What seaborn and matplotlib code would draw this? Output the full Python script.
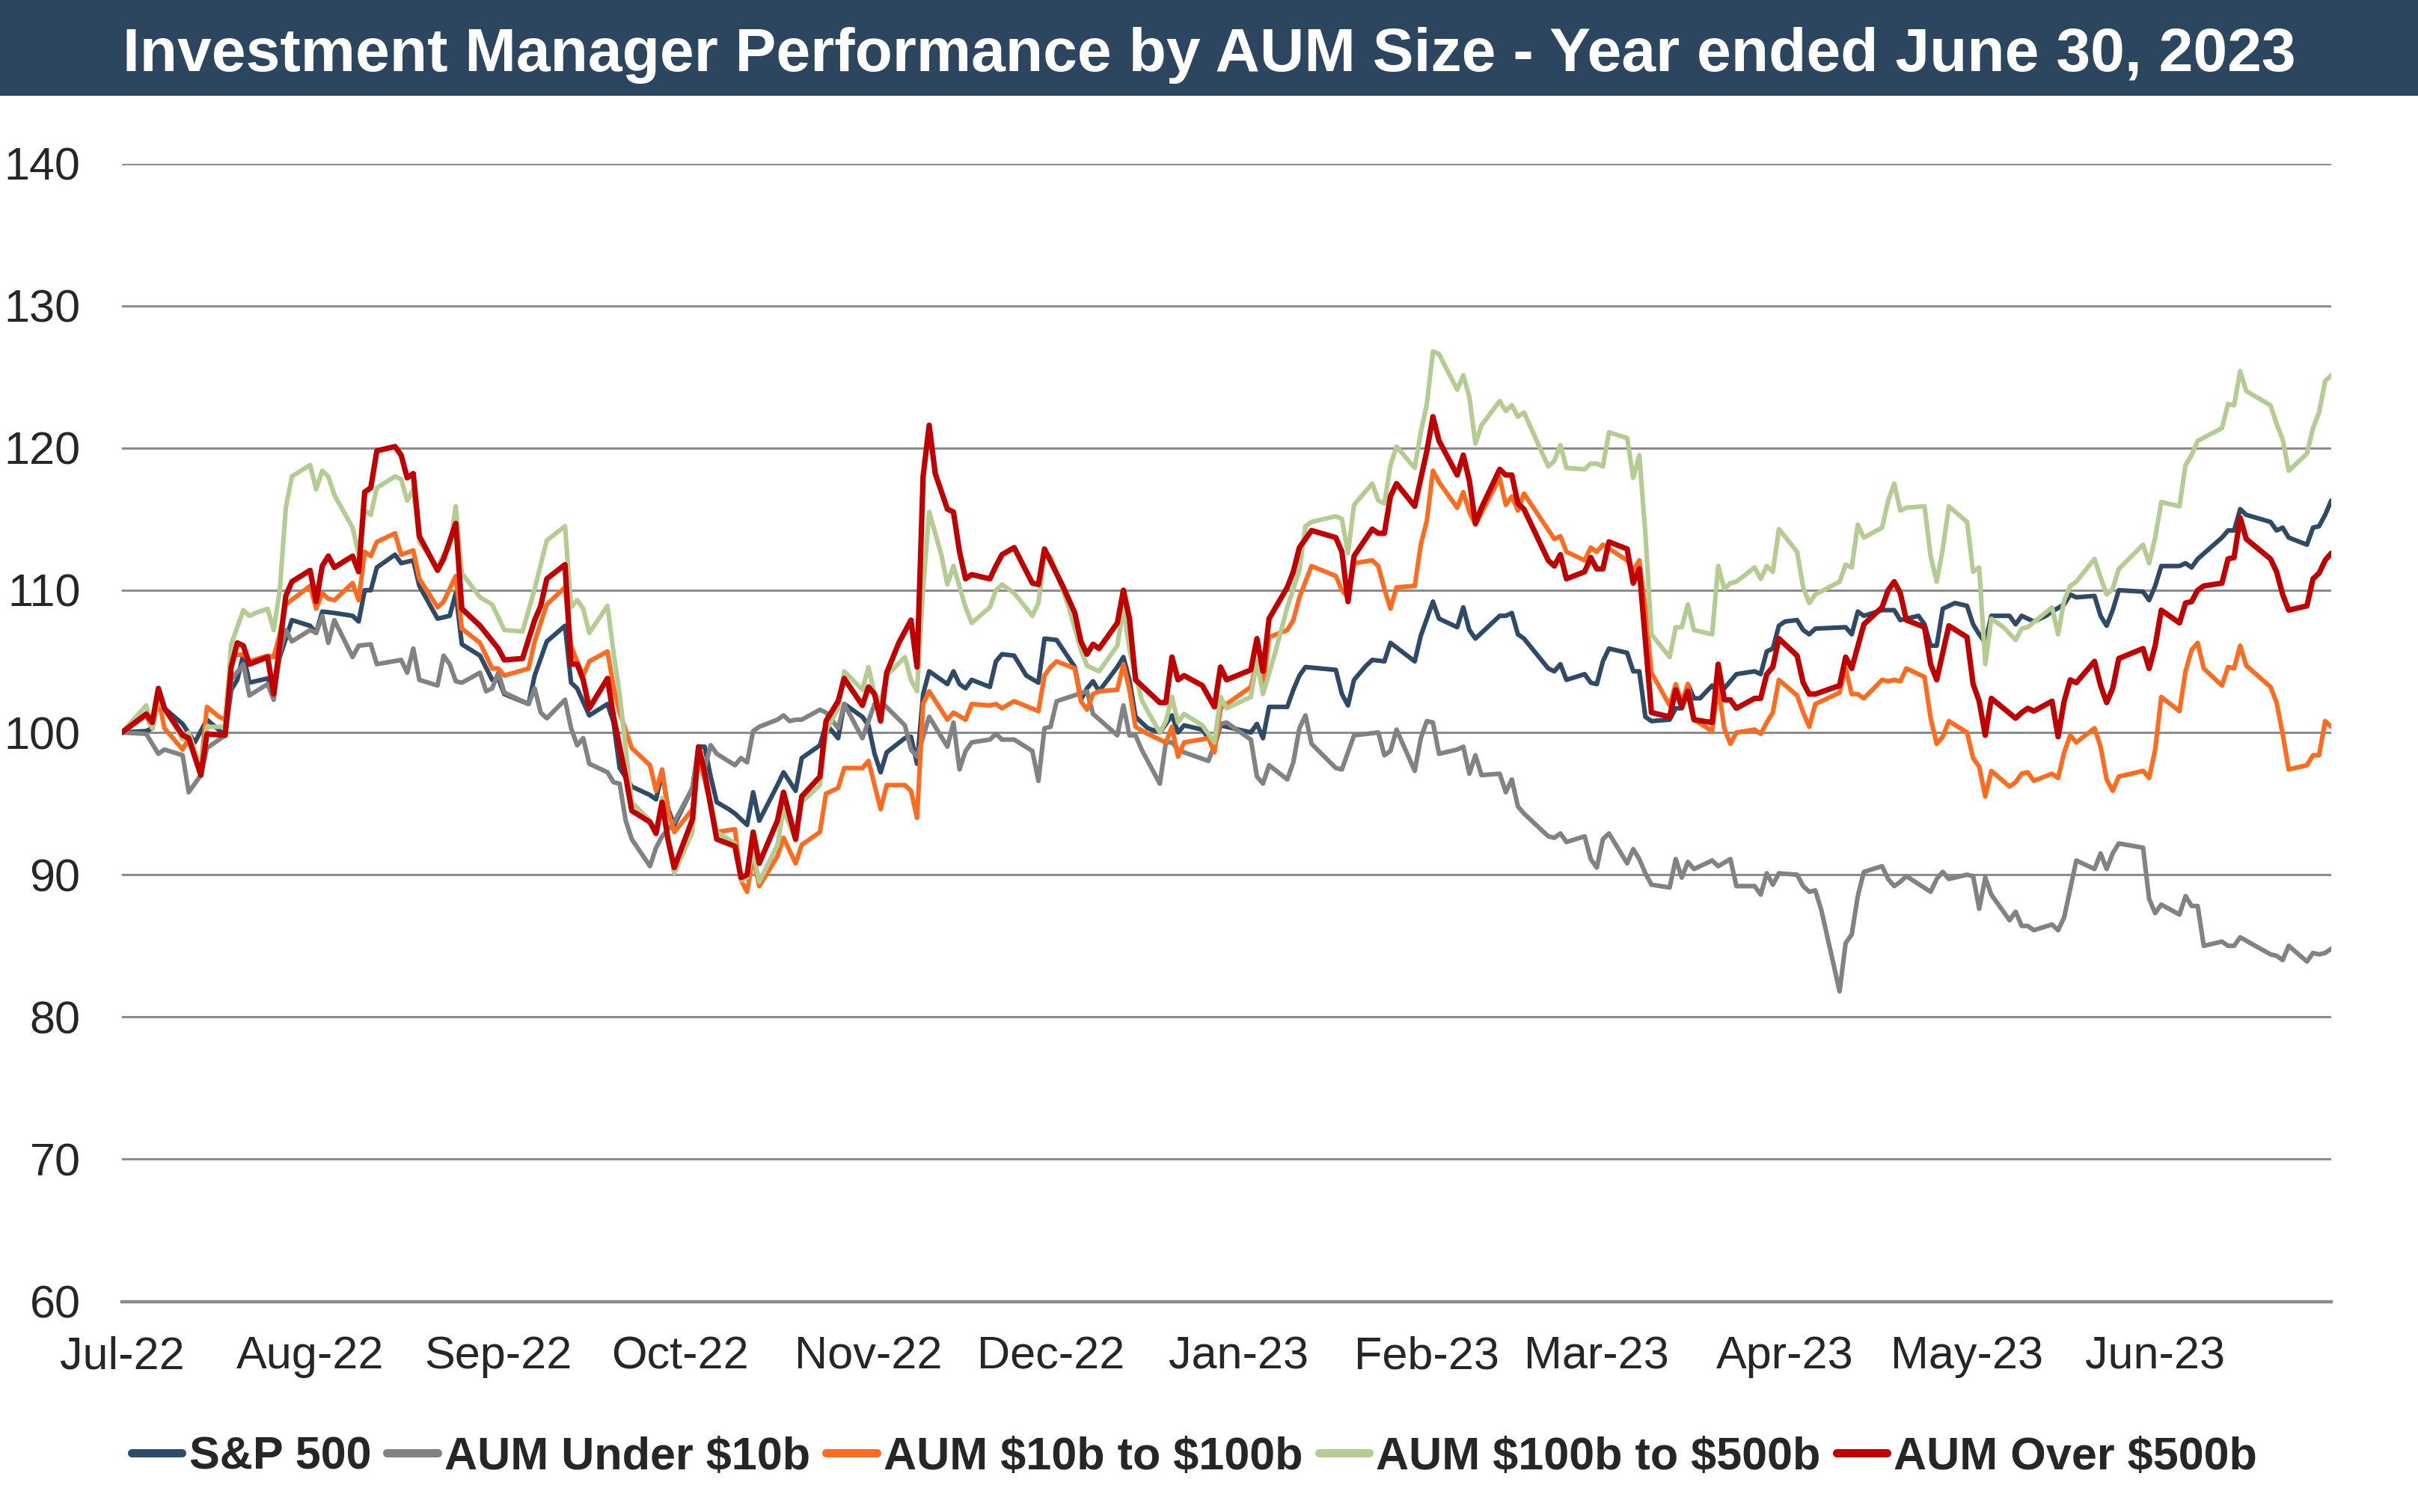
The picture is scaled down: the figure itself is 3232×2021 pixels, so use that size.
import pandas as pd
import numpy as np
import seaborn as sns
import matplotlib.pyplot as plt
import matplotlib.dates as mdates
from matplotlib.lines import Line2D
from matplotlib.patches import Rectangle

# index level (Jul 1 2022 = 100), as (days since Jul 1 2022, value)
start = pd.Timestamp('2022-07-01')

sp500 = [(0,100),(4,100.1),(5,100.3),(6,102.2),(7,101.7),(10,100.6),(12,99.3),(14,100.9),(17,99.8),(18,103.0),
    (19,103.7),(20,105.5),(21,103.5),(24,103.8),(25,102.8),(26,105.3),(28,107.9),(31,107.5),(32,107.0),(33,108.5),
    (35,108.4),(38,108.2),(39,107.8),(40,110.0),(41,110.0),(42,111.6),(45,112.5),(46,111.9),(48,112.1),(49,110.3),
    (52,108.0),(54,108.2),(55,109.8),(56,106.2),(59,105.4),(61,103.7),(62,103.8),(63,102.7),(67,102.0),(68,104.0),
    (70,106.4),(73,107.5),(74,103.5),(75,103.1),(77,101.2),(80,102.0),(81,100.7),(82,97.5),(84,96.2),(87,95.6),
    (88,95.3),(89,97.2),(90,94.6),(91,93.5),(94,96.1),(95,99.0),(96,99.0),(97,96.9),(98,95.1),(100,94.6),
    (101,94.3),(103,93.5),(104,95.8),(105,93.8),(108,96.3),(109,97.2),(111,95.9),(112,98.2),(115,99.1),(116,100.6),
    (118,99.6),(119,102.0),(122,101.1),(123,100.5),(124,98.5),(125,97.2),(126,98.6),(129,99.6),(130,99.7),(131,97.8),
    (132,102.7),(133,104.3),(136,103.4),(137,104.3),(138,103.4),(139,103.1),(140,103.7),(143,103.2),(144,105.0),(145,105.5),
    (147,105.4),(149,104.0),(151,103.5),(152,106.6),(154,106.5),(157,104.6),(158,102.3),(159,103.1),(160,103.6),(161,102.9),
    (164,104.6),(165,105.3),(166,103.7),(167,101.1),(169,100.3),(171,100.0),(173,101.2),(174,100.0),(175,100.5),(178,100.2),
    (180,99.0),(181,100.5),(182,100.4),(186,100.0),(187,100.6),(188,99.6),(189,101.8),(192,101.8),(193,103.0),(194,104.0),
    (195,104.6),(200,104.4),(201,102.7),(202,101.9),(203,103.7),(205,104.7),(206,105.1),(208,105.0),(209,106.3),(213,105.0),
    (214,106.8),(215,108.0),(216,109.2),(217,108.0),(220,107.4),(221,108.8),(222,107.2),(223,106.6),(227,108.2),(228,108.2),
    (229,108.4),(230,106.9),(231,106.6),(235,104.5),(236,104.3),(237,104.8),(238,103.7),(241,104.1),(242,103.5),(243,103.4),
    (244,105.0),(245,105.9),(248,105.6),(249,104.3),(250,104.3),(251,101.1),(252,100.8),(255,100.9),(256,101.7),(257,101.7),
    (258,103.4),(259,102.4),(260,102.4),(262,103.3),(263,102.8),(264,103.1),(266,104.1),(269,104.3),(270,104.1),(271,105.7),
    (272,105.9),(273,107.5),(274,107.8),(276,107.9),(277,107.2),(278,106.9),(279,107.3),(284,107.4),(285,106.9),(286,108.5),
    (287,108.2),(290,108.6),(292,108.6),(293,107.9),(296,108.2),(297,107.6),(298,106.1),(299,106.1),(300,108.7),(302,109.1),
    (304,108.9),(305,107.6),(306,106.9),(307,106.3),(308,108.2),(311,108.2),(312,107.6),(313,108.2),(315,107.8),(317,108.2),
    (318,108.5),(320,109.0),(321,109.7),(322,109.5),(325,109.6),(326,108.2),(327,107.5),(328,108.6),(329,110.0),(333,109.9),
    (334,109.3),(335,110.3),(336,111.7),(339,111.7),(340,111.9),(341,111.6),(342,112.2),(346,113.7),(347,114.2),(348,114.2),
    (349,115.7),(350,115.3),(354,114.8),(355,114.2),(356,114.4),(357,113.7),(360,113.2),(361,114.4),(362,114.5),(363,115.3),
    (364,116.3)]

aum_under_10b = [(0,100),(4,99.9),(6,98.5),(7,98.8),(10,98.4),(11,95.8),(13,97.0),(14,98.9),(17,99.8),(18,103.7),
    (20,104.8),(21,102.6),(24,103.4),(25,102.3),(26,105.6),(27,107.2),(28,106.4),(31,107.2),(32,107.0),(33,108.2),
    (34,106.3),(35,107.9),(38,105.3),(39,106.1),(41,106.2),(42,104.8),(46,105.1),(47,104.2),(48,105.9),(49,103.7),
    (52,103.3),(53,105.4),(54,104.8),(55,103.6),(56,103.5),(59,104.2),(60,102.9),(61,103.1),(62,104.2),(63,102.8),
    (67,102.0),(68,103.1),(69,101.4),(70,101.0),(73,102.3),(74,100.3),(75,99.1),(76,99.6),(77,97.8),(80,97.2),
    (81,96.5),(82,96.4),(83,93.8),(84,92.5),(87,90.6),(88,91.9),(89,92.7),(91,93.7),(94,96.1),(95,99.0),
    (96,97.5),(97,99.1),(98,98.5),(101,97.7),(102,98.2),(103,97.9),(104,100.1),(105,100.4),(108,100.9),(109,101.2),
    (110,100.8),(111,100.9),(112,100.9),(115,101.6),(116,101.4),(118,100.3),(119,102.0),(122,99.6),(124,102.0),(125,102.2),
    (129,100.5),(130,98.8),(131,98.3),(133,101.1),(136,99.0),(137,100.7),(138,97.4),(139,98.7),(140,99.3),(143,99.5),
    (144,99.9),(145,99.5),(147,99.5),(150,98.7),(151,96.6),(152,100.3),(153,100.4),(154,102.2),(159,102.9),(160,101.3),
    (164,99.8),(165,101.9),(166,99.8),(167,99.8),(168,98.8),(171,96.4),(172,99.3),(173,99.3),(174,98.8),(175,98.6),
    (179,98.0),(180,99.1),(181,100.6),(182,100.7),(186,99.5),(187,96.9),(188,96.4),(189,97.7),(192,96.7),(193,97.9),
    (194,100.3),(195,101.2),(196,99.2),(200,97.5),(201,97.4),(203,99.8),(207,100.0),(208,98.4),(209,98.7),(210,100.2),
    (213,97.3),(214,99.6),(215,100.8),(216,100.7),(217,98.5),(220,98.8),(221,99.0),(222,97.1),(223,98.4),(224,97.0),
    (227,97.1),(228,95.8),(229,96.7),(230,94.8),(231,94.3),(235,92.7),(236,92.6),(237,92.9),(238,92.3),(241,92.7),
    (242,91.1),(243,90.5),(244,92.5),(245,92.9),(248,90.8),(249,91.8),(250,91.1),(251,90.1),(252,89.3),(255,89.1),
    (256,91.1),(257,89.8),(258,90.9),(259,90.4),(262,91.0),(263,90.6),(265,91.1),(266,89.2),(269,89.2),(270,88.6),
    (271,90.1),(272,89.3),(273,90.1),(276,90.0),(277,89.2),(278,88.8),(279,88.9),(280,87.5),(283,81.8),(284,85.2),
    (285,85.8),(286,88.5),(287,90.2),(290,90.6),(291,89.7),(292,89.2),(293,89.5),(294,89.9),(298,88.8),(299,89.7),
    (300,90.2),(301,89.7),(304,90.0),(305,89.9),(306,87.6),(307,89.8),(308,88.6),(311,86.8),(312,87.4),(313,86.4),
    (314,86.4),(315,86.1),(318,86.5),(319,86.1),(320,87.0),(321,89.0),(322,91.0),(325,90.4),(326,91.5),(327,90.4),
    (328,91.5),(329,92.2),(333,91.9),(334,88.3),(335,87.3),(336,87.9),(339,87.2),(340,88.5),(341,87.8),(342,87.8),
    (343,85.0),(346,85.3),(347,85.0),(348,85.0),(349,85.6),(354,84.4),(355,84.3),(356,84.0),(357,85.0),(360,83.9),
    (361,84.5),(362,84.4),(363,84.5),(364,84.8)]

aum_10b_100b = [(0,100),(4,101.2),(5,100.3),(6,102.4),(7,100.3),(10,98.8),(11,99.6),(13,97.5),(14,101.8),(16,101.1),
    (17,100.9),(18,105.4),(20,105.5),(21,105.0),(24,105.4),(25,105.3),(26,106.9),(27,109.0),(31,110.3),(32,108.7),
    (33,109.8),(34,109.4),(35,109.3),(38,110.5),(39,109.3),(40,112.7),(41,112.4),(42,113.4),(45,114.0),(46,112.5),
    (48,112.8),(49,110.8),(52,108.8),(53,109.2),(55,111.0),(56,107.3),(59,106.3),(61,104.5),(62,104.5),(63,104.0),
    (67,104.5),(68,106.4),(70,109.0),(73,110.2),(74,106.1),(75,105.0),(76,104.0),(77,105.0),(80,105.7),(81,103.2),
    (82,101.4),(84,98.9),(87,97.7),(88,95.9),(89,97.4),(90,94.4),(91,93.0),(94,94.6),(95,98.2),(96,96.7),
    (98,93.0),(101,93.2),(102,89.6),(103,88.8),(104,91.3),(105,89.2),(108,91.3),(109,92.6),(111,90.8),(112,92.1),
    (115,93.0),(116,95.7),(118,96.1),(119,97.5),(122,97.5),(123,98.0),(125,94.6),(126,96.3),(129,96.3),(130,95.9),
    (131,94.0),(132,102.0),(133,102.9),(136,100.9),(137,101.4),(139,100.9),(140,102.0),(143,101.9),(144,102.0),(145,101.7),
    (147,102.2),(151,101.5),(152,104.0),(153,104.6),(154,105.0),(157,104.5),(158,102.2),(159,101.6),(160,102.7),(161,102.9),
    (164,103.0),(165,104.8),(166,103.0),(167,100.4),(169,99.9),(172,99.3),(173,100.4),(174,98.3),(175,99.3),(179,99.6),
    (180,98.6),(181,101.7),(182,102.0),(186,103.2),(187,105.0),(188,103.0),(189,106.7),(192,107.2),(193,107.9),(194,109.5),
    (196,111.7),(200,111.0),(201,110.0),(202,109.5),(203,111.9),(206,112.1),(207,111.7),(208,110.1),(209,108.7),(210,110.2),
    (213,110.3),(214,113.2),(215,114.9),(216,118.4),(217,117.6),(220,115.8),(221,116.9),(222,115.5),(223,114.6),(227,117.9),
    (228,116.0),(229,116.6),(230,115.6),(231,116.8),(236,113.6),(237,113.8),(238,112.7),(241,112.1),(242,113.0),(243,112.7),
    (244,113.2),(248,112.1),(249,111.4),(250,112.1),(251,108.8),(252,104.2),(255,101.9),(256,103.4),(257,102.1),(258,103.4),
    (259,100.9),(262,100.1),(263,103.2),(264,100.3),(265,99.2),(266,100.0),(269,100.2),(270,99.9),(271,100.7),(272,101.4),
    (273,103.7),(276,102.6),(277,101.4),(278,100.4),(279,102.0),(283,102.8),(284,104.5),(285,102.7),(286,102.7),(287,102.4),
    (290,103.7),(291,103.6),(292,103.7),(293,103.6),(294,104.5),(297,103.9),(298,101.0),(299,99.2),(300,99.7),(301,100.8),
    (304,100.0),(305,98.2),(306,97.6),(307,95.5),(308,97.3),(311,96.2),(312,96.5),(313,97.1),(314,97.2),(315,96.6),
    (318,97.1),(319,96.8),(320,98.6),(321,99.8),(322,99.3),(325,100.3),(326,99.0),(327,96.7),(328,95.9),(329,96.9),
    (333,97.3),(334,96.8),(335,98.8),(336,102.5),(339,101.5),(340,104.3),(341,105.8),(342,106.3),(343,104.5),(346,103.3),
    (347,104.6),(348,104.5),(349,106.1),(350,104.7),(354,103.2),(355,102.1),(356,99.9),(357,97.4),(360,97.7),(361,98.4),
    (362,98.4),(363,100.8),(364,100.4)]

aum_100b_500b = [(0,100),(4,101.9),(5,100.3),(6,102.4),(10,99.5),(11,100.0),(13,97.5),(14,100.4),(17,100.4),(18,106.2),
    (20,108.6),(21,108.2),(22,108.4),(24,108.7),(25,107.2),(26,110.0),(27,115.8),(28,118.0),(31,118.8),(32,117.1),
    (33,118.4),(34,118.0),(35,116.7),(38,114.4),(39,112.5),(40,115.6),(41,115.3),(42,117.2),(45,118.0),(46,117.8),
    (47,116.3),(48,117.1),(49,113.4),(52,111.6),(53,112.5),(54,113.0),(55,115.9),(56,111.2),(59,109.5),(61,109.0),
    (63,107.2),(66,107.1),(68,110.1),(70,113.5),(73,114.5),(74,108.8),(75,109.3),(76,108.7),(77,107.0),(80,108.9),
    (81,105.6),(82,102.7),(84,95.1),(87,93.8),(88,93.0),(89,95.4),(90,92.5),(91,90.1),(94,93.0),(95,98.8),
    (96,97.1),(98,93.0),(101,92.2),(102,89.6),(103,89.8),(104,91.6),(105,89.5),(108,92.1),(109,94.6),(111,92.4),
    (112,95.1),(115,96.3),(116,100.1),(118,101.7),(119,104.3),(122,103.0),(123,104.6),(124,102.7),(125,102.2),(126,104.0),
    (129,105.3),(130,103.7),(131,102.9),(132,110.1),(133,115.5),(135,112.5),(136,110.4),(137,111.7),(139,108.8),(140,107.7),
    (143,108.8),(144,110.0),(145,110.4),(147,109.8),(150,108.2),(151,109.1),(152,112.5),(153,112.4),(156,108.8),(158,105.8),
    (159,104.7),(161,104.3),(164,106.1),(165,108.8),(166,105.8),(168,102.3),(169,101.5),(171,100.0),(172,100.8),(173,102.5),
    (174,100.7),(175,101.3),(178,100.5),(180,99.3),(181,102.5),(182,101.7),(186,102.5),(187,105.0),(188,102.7),(190,105.6),
    (192,108.8),(194,111.4),(195,114.5),(196,114.8),(200,115.2),(201,115.0),(202,112.6),(203,116.0),(206,117.5),(207,116.3),
    (208,116.1),(209,118.8),(210,120.1),(213,118.6),(214,121.1),(215,123.1),(216,126.8),(217,126.6),(220,124.1),(221,125.1),
    (222,123.6),(223,120.3),(224,121.6),(227,123.3),(228,122.6),(229,123.0),(230,122.2),(231,122.5),(235,118.7),(236,119.1),
    (237,120.2),(238,118.6),(241,118.5),(242,118.9),(243,118.9),(244,118.7),(245,121.1),(248,120.7),(249,117.9),(250,119.5),
    (251,114.0),(252,106.9),(255,105.3),(256,107.4),(257,107.4),(258,109.0),(259,107.2),(262,106.9),(263,111.7),(264,110.1),
    (265,110.5),(266,110.6),(269,111.6),(270,110.8),(271,111.7),(272,111.3),(273,114.3),(276,112.7),(277,110.2),(278,109.1),
    (279,109.7),(283,110.6),(284,111.8),(285,111.6),(286,114.6),(287,113.7),(290,114.4),(291,116.3),(292,117.5),(293,115.6),
    (294,115.8),(297,115.9),(298,112.4),(299,110.6),(300,112.9),(301,115.9),(304,114.8),(305,111.3),(306,111.6),(307,104.8),
    (308,108.0),(310,107.4),(312,106.5),(313,107.3),(314,107.4),(318,108.8),(319,106.9),(320,109.3),(321,110.3),(322,110.6),
    (325,112.2),(326,110.9),(327,109.7),(328,110.1),(329,111.5),(333,113.2),(334,111.9),(335,113.7),(336,116.2),(339,115.9),
    (340,118.8),(341,119.5),(342,120.5),(346,121.4),(347,123.1),(348,123.0),(349,125.4),(350,124.0),(354,123.0),(355,121.7),
    (356,120.6),(357,118.4),(360,119.6),(361,121.4),(362,122.5),(363,124.7),(364,125.1)]

aum_over_500b = [(0,100),(4,101.3),(5,100.7),(6,103.1),(7,101.7),(10,99.8),(11,99.6),(13,97.0),(14,99.9),(17,99.8),
    (18,104.6),(19,106.3),(20,106.1),(21,104.8),(24,105.3),(25,102.7),(27,109.6),(28,110.6),(31,111.4),(32,109.2),
    (33,111.7),(34,112.4),(35,111.6),(38,112.4),(39,111.3),(40,116.9),(41,117.2),(42,119.8),(45,120.1),(46,119.5),
    (47,117.9),(48,118.2),(49,113.8),(52,111.4),(53,112.2),(55,114.7),(56,108.7),(59,107.5),(62,105.9),(63,105.1),
    (66,105.2),(68,107.9),(69,108.9),(70,110.8),(73,111.8),(74,104.8),(75,104.8),(76,103.7),(77,101.7),(80,103.8),
    (81,101.1),(83,96.9),(84,94.5),(87,93.7),(88,92.9),(89,95.1),(90,92.4),(91,90.5),(94,93.9),(95,99.0),
    (96,97.2),(98,92.5),(101,92.0),(102,89.8),(103,90.0),(104,93.0),(105,90.8),(108,93.8),(109,95.8),(111,92.5),
    (112,95.5),(115,96.9),(116,100.8),(118,102.2),(119,103.8),(122,101.9),(123,103.2),(124,102.7),(125,100.8),(126,104.2),
    (128,106.3),(130,107.9),(131,104.6),(132,118.0),(133,121.6),(134,118.2),(136,115.7),(137,115.5),(138,112.7),(139,110.8),
    (140,111.1),(143,110.8),(144,111.7),(145,112.5),(147,113.0),(150,110.5),(151,110.4),(152,112.9),(155,110.3),(157,108.4),
    (158,106.4),(159,105.5),(160,106.2),(161,105.9),(164,107.7),(165,110.0),(166,108.0),(167,103.7),(169,102.9),(171,102.1),
    (172,102.1),(173,105.3),(174,103.7),(175,104.0),(178,103.3),(180,101.8),(181,104.6),(182,103.7),(186,104.4),(187,106.6),
    (188,104.3),(189,108.0),(192,110.2),(193,111.3),(194,113.0),(196,114.2),(200,113.7),(201,112.7),(202,109.2),(203,112.4),
    (206,114.3),(207,114.0),(208,114.0),(209,116.6),(210,117.5),(213,115.9),(215,119.8),(216,122.2),(217,120.5),(220,118.1),
    (221,119.5),(222,117.7),(223,114.7),(224,115.8),(227,118.5),(228,118.1),(229,118.1),(230,116.1),(231,115.7),(235,112.1),
    (236,111.7),(237,112.5),(238,110.8),(241,111.3),(242,112.3),(243,111.5),(244,111.5),(245,113.4),(248,112.9),(249,110.5),
    (250,111.5),(252,101.4),(255,101.1),(256,103.0),(257,101.8),(258,102.9),(259,100.9),(262,100.7),(263,104.8),(264,102.3),
    (265,102.3),(266,101.7),(269,102.4),(270,102.4),(271,104.1),(272,104.6),(273,106.6),(276,105.4),(277,103.5),(278,102.7),
    (279,102.7),(283,103.3),(284,105.3),(285,104.5),(287,107.6),(290,108.8),(291,110.0),(292,110.6),(293,109.8),(294,107.9),
    (297,107.4),(298,104.8),(299,103.7),(301,107.5),(304,106.7),(305,103.4),(306,102.2),(307,99.8),(308,102.4),(310,101.7),
    (312,101.0),(313,101.4),(314,101.7),(315,101.5),(318,102.2),(319,99.7),(320,102.2),(321,103.7),(322,103.5),(325,105.0),
    (326,103.3),(327,102.1),(328,103.1),(329,105.2),(333,105.9),(334,104.5),(335,106.1),(336,108.6),(339,107.7),(340,109.1),
    (341,109.2),(342,110.0),(343,110.3),(346,110.5),(347,112.2),(348,112.3),(349,115.1),(350,113.6),(354,112.2),(355,111.3),
    (356,109.7),(357,108.6),(360,108.9),(361,110.8),(362,111.2),(363,112.1),(364,112.6)]

series_names = ['S&P 500', 'AUM Under $10b', 'AUM $10b to $100b', 'AUM $100b to $500b', 'AUM Over $500b']
series_data = [sp500, aum_under_10b, aum_10b_100b, aum_100b_500b, aum_over_500b]
series_colors = ['#2E4A66', '#828282', '#FF6B1F', '#B4CB91', '#C00000']
y_ticks = [60, 70, 80, 90, 100, 110, 120, 130, 140]

sns.set_style('white')
plt.rcParams['font.family'] = ['Liberation Sans', 'DejaVu Sans']

fig = plt.figure(figsize=(16.16, 10.105), dpi=200)
fig.patch.set_facecolor('white')

# title banner
fig.patches.append(Rectangle((0, 1 - 128 / 2021), 1, 128 / 2021, transform=fig.transFigure,
                             facecolor='#2D4660', edgecolor='none', zorder=0))
fig.text(0.5, 1 - 74 / 2021, 'Investment Manager Performance by AUM Size - Year ended June 30, 2023',
         ha='center', va='center', color='white', fontsize=29.6, fontweight='bold')

ax = fig.add_axes([163 / 3232, 1 - 1739.6 / 2021, (3116 - 163) / 3232, (1739.6 - 218.5) / 2021])

frames = []
for name, pts in zip(series_names, series_data):
    d = pd.DataFrame(pts, columns=['day', 'value'])
    d['date'] = start + pd.to_timedelta(d['day'], unit='D')
    d['series'] = name
    frames.append(d)
df = pd.concat(frames, ignore_index=True)

for name, color in zip(series_names, series_colors):
    lw = 2.6 if name == 'AUM Over $500b' else 2.2
    sns.lineplot(data=df[df['series'] == name], x='date', y='value', color=color, lw=lw,
                 ax=ax, estimator=None, legend=False, solid_joinstyle='round', solid_capstyle='round')

ax.set_ylim(60, 140)
ax.set_yticks(y_ticks)
ax.set_xlim(start, pd.Timestamp('2023-06-30'))
ax.set_xticks(pd.date_range('2022-07-01', '2023-06-01', freq='MS'))
ax.xaxis.set_major_formatter(mdates.DateFormatter('%b-%y'))
ax.set_xlabel('')
ax.set_ylabel('')
ax.grid(axis='y', color='#8C8C8C', lw=1.1)
ax.grid(axis='x', visible=False)
ax.set_axisbelow(True)
for s in ['left', 'right', 'top']:
    ax.spines[s].set_visible(False)
ax.spines['bottom'].set_color('#8C8C8C')
ax.spines['bottom'].set_linewidth(1.6)
ax.tick_params(axis='x', direction='out', length=6.5, width=0.6, color='#BFBFBF', pad=10, labelsize=22)
ax.tick_params(axis='y', length=0, pad=20, labelsize=22)

handles = [Line2D([0], [0], color=c, lw=4, solid_capstyle='round') for c in series_colors]
labels = [n.replace('$', r'\$') for n in series_names]
fig.legend(handles, labels, loc='center', bbox_to_anchor=(0.494, 0.036), ncol=5, frameon=False,
           prop={'weight': 'bold', 'size': 22}, handlelength=1.1, handletextpad=0.15, columnspacing=0.35)

fig.savefig('out.png', dpi=200)
